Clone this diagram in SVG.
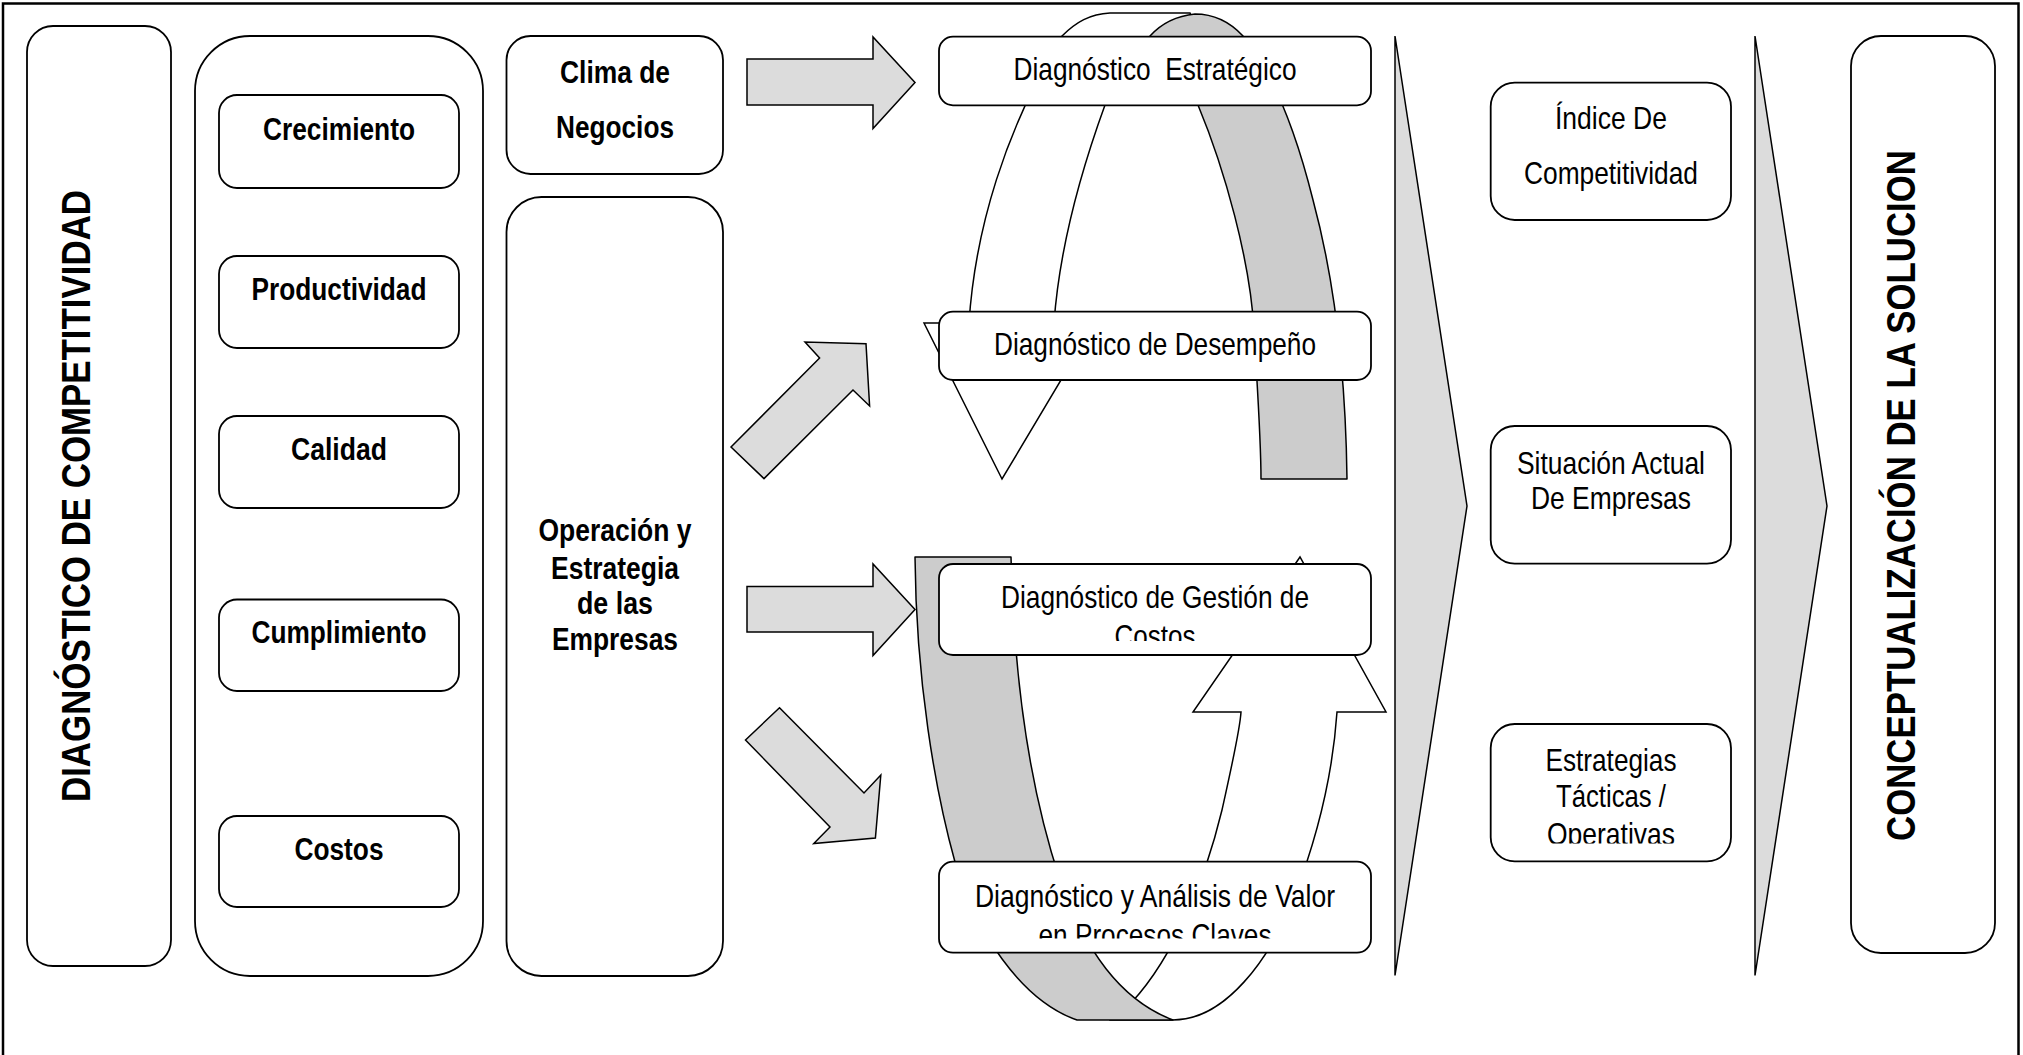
<svg xmlns="http://www.w3.org/2000/svg" width="2023" height="1055" viewBox="0 0 2023 1055">
  <defs>
    <style>
      .frame{fill:#fff;stroke:#000;stroke-width:2.5}
      .box{fill:#fff;stroke:#000;stroke-width:1.8}
      .arrow{fill:#dcdcdc;stroke:#000;stroke-width:1.5;stroke-linejoin:miter}
      .band{fill:#cccccc;stroke:#000;stroke-width:1.5;stroke-linejoin:round}
      .ribbon{fill:#fff;stroke:#000;stroke-width:1.5;stroke-linejoin:miter}
      .t{font-family:'Liberation Sans Narrow','Liberation Sans',Arial,sans-serif;font-size:31.5px;fill:#000;text-anchor:middle}
      .b{font-weight:bold}
      .v{font-family:'Liberation Sans',Arial,sans-serif;font-weight:bold;font-size:40px;fill:#000;text-anchor:middle}
    </style>
    <clipPath id="clip-gestion"><rect x="939" y="560" width="432" height="81"/></clipPath>
    <clipPath id="clip-valor"><rect x="939" y="858" width="432" height="80.5"/></clipPath>
    <clipPath id="clip-estrategias"><rect x="1490" y="720" width="242" height="123.5"/></clipPath>
  </defs>

  <!-- page frame (open at the bottom edge) -->
  <rect class="frame" x="3" y="3.5" width="2015.5" height="1065"/>

  <g id="connectors">
    <!-- flow chevrons -->
    <polygon class="arrow" points="1395,36 1467,506 1395,975.5"/>
    <polygon class="arrow" points="1755,36 1827,506 1755,975.5"/>

    <!-- upper half of the cycle: white ribbon ending in a downward head -->
    <path class="ribbon" d="M924,323 L969,323 C975,230 1005,130 1062,36 C1076,22 1090,14 1110,13 L1190,13 L1200,36 L1200,90 L1112,90 L1105,105 C1085,160 1060,240 1054,323 L1095,323 L1002,479 Z"/>
    <!-- upper half of the cycle: grey ribbon on the right -->
    <path class="band" d="M1261,479 L1347,479 C1346,400 1340,300 1313,200 C1298,140 1275,75 1243,36 C1230,22 1215,14 1195,14 C1175,16 1160,25 1150,36 L1198,105 C1225,170 1250,260 1254,330 C1258,400 1261,440 1261,479 Z"/>

    <!-- lower half of the cycle: white ribbon rising into an upward head -->
    <path class="ribbon" d="M1132,1002 C1175,955 1205,880 1222,810 C1233,760 1240,730 1241,712 L1193,712 L1300,557 L1386,712 L1337,712 C1333,770 1320,830 1295,895 C1270,960 1225,1020 1173,1020 L1110,1020 L1110,995 Z"/>
    <!-- lower half of the cycle: grey ribbon on the left -->
    <path class="band" d="M915,557 L1011,557 C1014,680 1030,790 1060,880 C1085,950 1120,1000 1173,1020 L1077,1020 C1020,1000 975,930 955,862 C935,790 916,680 915,557 Z"/>

    <!-- input arrows -->
    <polygon class="arrow" points="747,59 873,59 873,37 915,82.6 873,128.5 873,105 747,105"/>
    <polygon class="arrow" points="731,447 819.6,358 805,342 866,343.7 869.6,406 853,390 764,478.6"/>
    <polygon class="arrow" points="747,586.5 873,586.5 873,564 915,609.5 873,655.5 873,632 747,632"/>
    <polygon class="arrow" points="779.5,707.7 864,793 880.8,775 875.4,838 813.8,843.5 830,827 745.5,740"/>
  </g>

  <g id="diagnostico-competitividad">
    <rect class="box" x="27" y="26" width="144" height="940" rx="26"/>
    <text class="v" transform="translate(89.5,496) rotate(-90)" textLength="612" lengthAdjust="spacingAndGlyphs">DIAGNÓSTICO DE COMPETITIVIDAD</text>
  </g>

  <g id="indicadores">
    <rect class="box" x="195" y="36" width="288" height="940" rx="55"/>
  </g>
  <g id="crecimiento">
    <rect class="box" x="219" y="95" width="240" height="93" rx="18"/>
    <text class="t b" x="339" y="139.5" textLength="152" lengthAdjust="spacingAndGlyphs">Crecimiento</text>
  </g>
  <g id="productividad">
    <rect class="box" x="219" y="256" width="240" height="92" rx="18"/>
    <text class="t b" x="339" y="300" textLength="175" lengthAdjust="spacingAndGlyphs">Productividad</text>
  </g>
  <g id="calidad">
    <rect class="box" x="219" y="416" width="240" height="92" rx="18"/>
    <text class="t b" x="339" y="460" textLength="96" lengthAdjust="spacingAndGlyphs">Calidad</text>
  </g>
  <g id="cumplimiento">
    <rect class="box" x="219" y="599.5" width="240" height="91.5" rx="18"/>
    <text class="t b" x="339" y="643" textLength="175" lengthAdjust="spacingAndGlyphs">Cumplimiento</text>
  </g>
  <g id="costos">
    <rect class="box" x="219" y="816" width="240" height="91" rx="18"/>
    <text class="t b" x="339" y="859.5" textLength="89" lengthAdjust="spacingAndGlyphs">Costos</text>
  </g>

  <g id="clima-negocios">
    <rect class="box" x="506.5" y="36" width="216.5" height="138" rx="24"/>
    <text class="t b" x="615" y="82.6" textLength="110" lengthAdjust="spacingAndGlyphs">Clima de</text>
    <text class="t b" x="615" y="137.7" textLength="118" lengthAdjust="spacingAndGlyphs">Negocios</text>
  </g>

  <g id="operacion-estrategia">
    <rect class="box" x="506.5" y="197" width="216.5" height="779" rx="35"/>
    <text class="t b" x="615" y="541" textLength="153" lengthAdjust="spacingAndGlyphs">Operación y</text>
    <text class="t b" x="615" y="578.7" textLength="128" lengthAdjust="spacingAndGlyphs">Estrategia</text>
    <text class="t b" x="615" y="614" textLength="76" lengthAdjust="spacingAndGlyphs">de las</text>
    <text class="t b" x="615" y="650.4" textLength="126" lengthAdjust="spacingAndGlyphs">Empresas</text>
  </g>

  <g id="diag-estrategico">
    <rect class="box" x="939" y="36.7" width="432" height="68.6" rx="14"/>
    <text class="t" x="1155" y="80" xml:space="preserve" style="white-space:pre" textLength="283" lengthAdjust="spacingAndGlyphs">Diagnóstico  Estratégico</text>
  </g>
  <g id="diag-desempeno">
    <rect class="box" x="939" y="311.7" width="432" height="68.3" rx="14"/>
    <text class="t" x="1155" y="355" textLength="322" lengthAdjust="spacingAndGlyphs">Diagnóstico de Desempeño</text>
  </g>
  <g id="diag-costos">
    <rect class="box" x="939" y="564" width="432" height="91" rx="14"/>
    <g clip-path="url(#clip-gestion)">
      <text class="t" x="1155" y="608.3" textLength="308" lengthAdjust="spacingAndGlyphs">Diagnóstico de Gestión de</text>
      <text class="t" x="1155" y="647.3" textLength="81" lengthAdjust="spacingAndGlyphs">Costos</text>
    </g>
  </g>
  <g id="diag-valor">
    <rect class="box" x="939" y="861.7" width="432" height="91" rx="14"/>
    <g clip-path="url(#clip-valor)">
      <text class="t" x="1155" y="906.7" textLength="360" lengthAdjust="spacingAndGlyphs">Diagnóstico y Análisis de Valor</text>
      <text class="t" x="1155" y="945.7" textLength="233" lengthAdjust="spacingAndGlyphs">en Procesos Claves</text>
    </g>
  </g>

  <g id="indice-competitividad">
    <rect class="box" x="1490.7" y="82.6" width="240.3" height="137.4" rx="24"/>
    <text class="t" x="1611" y="129" textLength="112" lengthAdjust="spacingAndGlyphs">Índice De</text>
    <text class="t" x="1611" y="184" textLength="174" lengthAdjust="spacingAndGlyphs">Competitividad</text>
  </g>
  <g id="situacion-actual">
    <rect class="box" x="1490.7" y="426" width="240.3" height="137.7" rx="24"/>
    <text class="t" x="1611" y="473.5" textLength="188" lengthAdjust="spacingAndGlyphs">Situación Actual</text>
    <text class="t" x="1611" y="509" textLength="160" lengthAdjust="spacingAndGlyphs">De Empresas</text>
  </g>
  <g id="estrategias">
    <rect class="box" x="1490.7" y="724" width="240.3" height="137.3" rx="24"/>
    <g clip-path="url(#clip-estrategias)">
      <text class="t" x="1611" y="770.8" textLength="131" lengthAdjust="spacingAndGlyphs">Estrategias</text>
      <text class="t" x="1611" y="806.7" textLength="110" lengthAdjust="spacingAndGlyphs">Tácticas /</text>
      <text class="t" x="1611" y="845" textLength="128" lengthAdjust="spacingAndGlyphs">Operativas</text>
    </g>
  </g>

  <g id="conceptualizacion">
    <rect class="box" x="1851" y="36" width="144" height="917" rx="30"/>
    <text class="v" transform="translate(1915,495.5) rotate(-90)" textLength="691" lengthAdjust="spacingAndGlyphs">CONCEPTUALIZACIÓN DE LA SOLUCION</text>
  </g>
</svg>
